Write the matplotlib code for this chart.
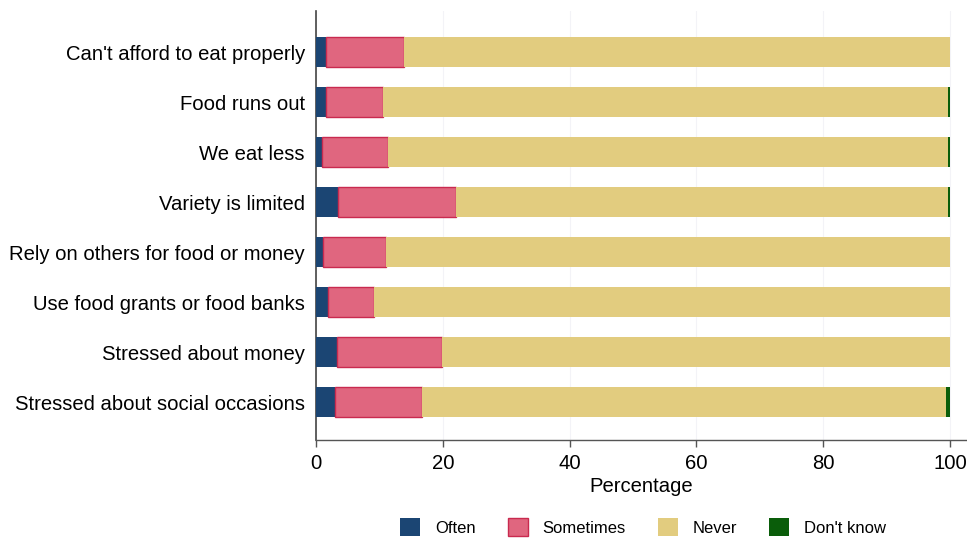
import matplotlib
matplotlib.use("Agg")
import matplotlib.pyplot as plt
import numpy as np
from matplotlib.patches import Patch

plt.rcParams['font.family'] = ['Liberation Sans', 'DejaVu Sans']

categories = ["Can't afford to eat properly", "Food runs out", "We eat less",
              "Variety is limited", "Rely on others for food or money",
              "Use food grants or food banks", "Stressed about money",
              "Stressed about social occasions"]
often = [1.5, 1.5, 1.0, 3.5, 1.15, 1.85, 3.3, 3.0]
sometimes = [12.4, 9.1, 10.4, 18.6, 9.95, 7.25, 16.5, 13.7]
dont_know = [0.0, 0.3, 0.3, 0.3, 0.0, 0.0, 0.0, 0.6]
never = [100 - o - s - d for o, s, d in zip(often, sometimes, dont_know)]

series = [("Often", often, "#1b4573", "#1b4573", 0),
          ("Sometimes", sometimes, "#e0667f", "#c92a4f", 1.0),
          ("Never", never, "#e2cc7f", "#e2cc7f", 0),
          ("Don't know", dont_know, "#0a5d0a", "#0a5d0a", 0)]

fig = plt.figure(figsize=(9.67, 5.39), dpi=100)
ax = fig.add_axes([316/967, 1-440/539, (966-316)/967, (440-11)/539])

y = np.arange(len(categories))
left = np.zeros(len(categories))
handles = []
for name, vals, fc, ec, lw in series:
    vals = np.array(vals)
    ax.barh(y, vals, left=left, height=0.6, color=fc, edgecolor=ec, linewidth=lw, zorder=3)
    left += vals
    handles.append(Patch(facecolor=fc, edgecolor=ec if lw else fc, linewidth=lw, label=name))

ax.set_ylim(7.76, -0.82)
ax.set_xlim(0, (966-316)/6.34)
ax.set_yticks(y)
ax.set_yticklabels(categories, fontsize=14.6)
ax.set_xticks([0, 20, 40, 60, 80, 100])
ax.tick_params(axis='x', labelsize=14.6, length=5, width=1, color='#555555', pad=5)
ax.tick_params(axis='y', length=0, pad=8)
ax.set_xlabel("Percentage", fontsize=14.6, labelpad=3)
ax.grid(axis='x', color='#f3f3f7', linewidth=0.8, zorder=0)
for s in ['top', 'right']:
    ax.spines[s].set_visible(False)
ax.spines['left'].set_color('#444444')
ax.spines['left'].set_linewidth(1.2)
ax.spines['bottom'].set_color('#555555')
ax.spines['bottom'].set_linewidth(1.0)

fig.legend(handles=handles, loc='center', bbox_to_anchor=(643/967, 1-527/539),
           ncol=4, frameon=False, fontsize=12, handlelength=1.2, handleheight=1.3,
           columnspacing=1.9, handletextpad=0.9)

fig.savefig("out.png", dpi=100)
